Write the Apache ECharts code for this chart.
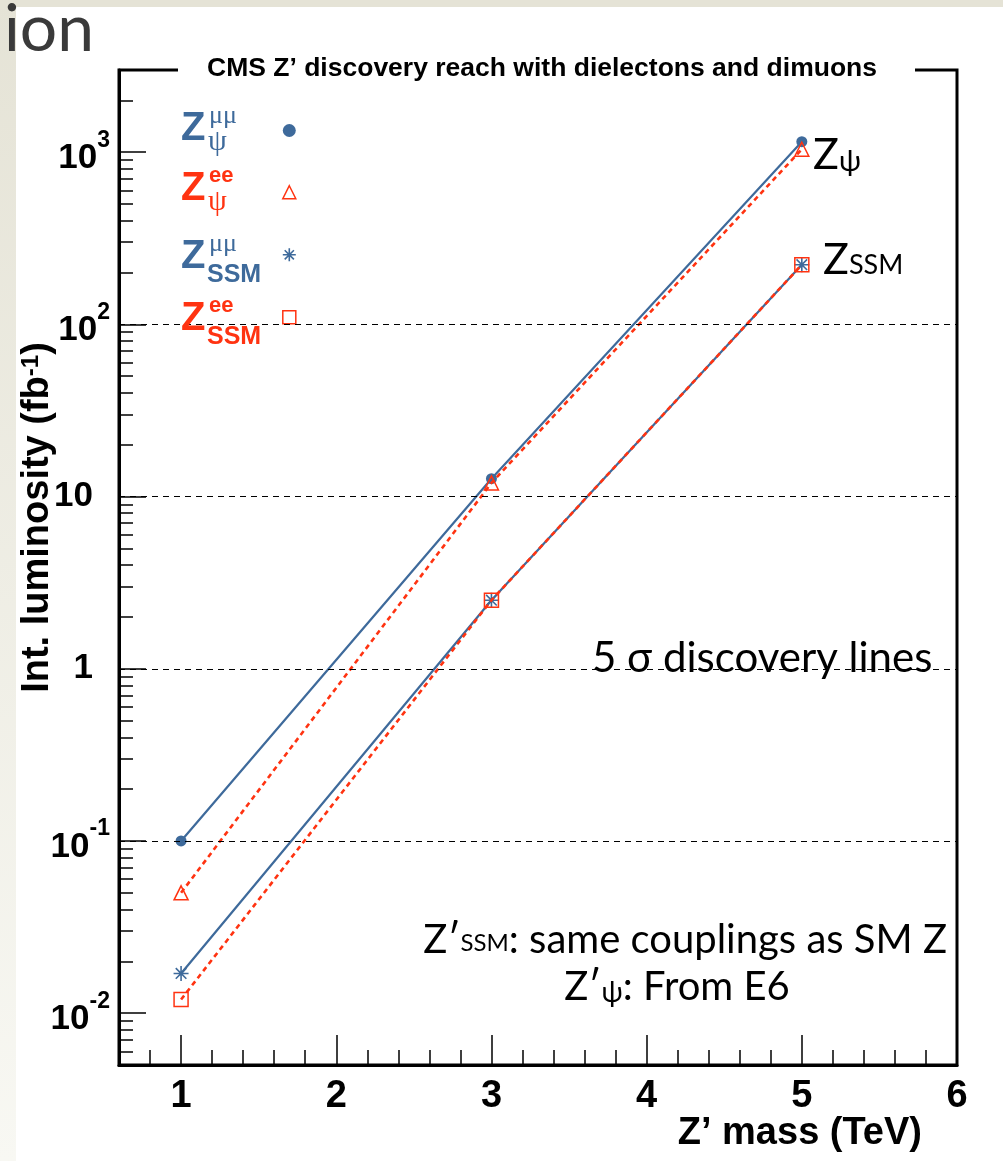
<!DOCTYPE html>
<html><head><meta charset="utf-8">
<script src="https://cdn.jsdelivr.net/npm/echarts@6/dist/echarts.min.js"></script>
<style>html,body{margin:0;padding:0;background:#fff}#c{width:1003px;height:1161px}</style>
</head><body><div id="c"></div>
<script>
// ---- data ----
const massTeV = [1, 3, 5];
const zpsiMuMu = [0.1, 12.7, 1150];
const zpsiEE = [0.05, 12, 1040];
const zssmMuMu = [0.017, 2.5, 222];
const zssmEE = [0.012, 2.5, 222];
const seriesNames = ['Zψ μμ', 'Zψ ee', 'ZSSM μμ', 'ZSSM ee'];
const xMajorTicks = [1, 2, 3, 4, 5, 6];
const xMinorTicks = [0.8, 1.2, 1.4, 1.6, 1.8, 2.2, 2.4, 2.6, 2.8, 3.2, 3.4, 3.6, 3.8, 4.2, 4.4, 4.6, 4.8, 5.2, 5.4, 5.6, 5.8];
const yMajorTicks = [0.01, 0.1, 1, 10, 100, 1000];
const yMinorTicks = [0.006, 0.007, 0.008, 0.009,
  0.02, 0.03, 0.04, 0.05, 0.06, 0.07, 0.08, 0.09,
  0.2, 0.3, 0.4, 0.5, 0.6, 0.7, 0.8, 0.9,
  2, 3, 4, 5, 6, 7, 8, 9,
  20, 30, 40, 50, 60, 70, 80, 90,
  200, 300, 400, 500, 600, 700, 800, 900, 2000];
const gridLineValues = [0.1, 1, 10, 100];

// ---- style ----
const BLUE = '#3e6a9b';
const RED = '#ff3311';
const SANS = '"Liberation Sans", Arial, sans-serif';
const HUM = 'Lato, "DejaVu Sans", sans-serif';
const SERIF = '"Liberation Serif", "DejaVu Serif", serif';
const asterisk = 'path://M0,-10L0,10M-10,0L10,0M-7.07,-7.07L7.07,7.07M-7.07,7.07L7.07,-7.07';

function pts(vals) { return massTeV.map((m, i) => [m, vals[i]]); }

function lineSeries(name, vals, color, dashed, symbol, size, hollow) {
  return {
    type: 'line', name: name, data: pts(vals),
    xAxisIndex: 0, yAxisIndex: 0,
    symbol: symbol, symbolSize: size,
    lineStyle: { color: color, width: dashed ? 2.6 : 2.2, type: dashed ? [5, 4] : 'solid' },
    itemStyle: { color: hollow ? 'rgba(255,255,255,0)' : color, borderColor: color, borderWidth: hollow ? 1.5 : (symbol === asterisk ? 1.6 : 0) },
    emphasis: { disabled: true },
    z: dashed ? 4 : 3
  };
}

const series = [
  lineSeries(seriesNames[0], zpsiMuMu, BLUE, false, 'circle', 11, false),
  lineSeries(seriesNames[1], zpsiEE, RED, true, 'triangle', 14, true),
  lineSeries(seriesNames[2], zssmMuMu, BLUE, false, asterisk, 15, false),
  lineSeries(seriesNames[3], zssmEE, RED, true, 'rect', 14, true)
];
series[0].markLine = {
  silent: true, symbol: ['none', 'none'], label: { show: false },
  lineStyle: { color: '#000', type: [6, 5], width: 1 },
  emphasis: { disabled: true },
  data: gridLineValues.map(v => ({ yAxis: v }))
};

const yLabelRich = {
  b: { fontFamily: SANS, fontWeight: 'bold', fontSize: 35, color: '#000', padding: [12, 0, 0, 0] },
  n: { fontFamily: SANS, fontWeight: 'bold', fontSize: 35, color: '#000', padding: [0, 17, 0, 0] },
  s: { fontFamily: SANS, fontWeight: 'bold', fontSize: 23, color: '#000', verticalAlign: 'top' }
};

const legendLabels = [
  { main: 'Z', sup: 'μμ', sub: 'ψ', color: BLUE, supSerif: true, subSerif: true, y: 129 },
  { main: 'Z', sup: 'ee', sub: 'ψ', color: RED, supSerif: false, subSerif: true, y: 189 },
  { main: 'Z', sup: 'μμ', sub: 'SSM', color: BLUE, supSerif: true, subSerif: false, y: 257 },
  { main: 'Z', sup: 'ee', sub: 'SSM', color: RED, supSerif: false, subSerif: false, y: 319 }
];

const graphic = [
  { type: 'rect', shape: { x: 0, y: 0, width: 16, height: 1161 }, z: -10,
    style: { fill: new echarts.graphic.LinearGradient(0, 0, 0, 1, [{ offset: 0, color: '#e5e3d6' }, { offset: 1, color: '#f8f8f3' }]) } },
  { type: 'rect', shape: { x: 0, y: 0, width: 1003, height: 7 }, z: -10, style: { fill: '#e5e3d6' } },
  { type: 'text', x: 4, y: 30, z: 5, style: { text: 'ion', font: '66px ' + HUM, fill: '#3a3a3a', textVerticalAlign: 'middle' } }
];
legendLabels.forEach(l => {
  graphic.push({ type: 'text', x: 181, y: l.y, z: 10, style: { text: l.main, font: 'bold 40px ' + SANS, fill: l.color, textVerticalAlign: 'middle' } });
  graphic.push({ type: 'text', x: 209, y: l.y - 13, z: 10, style: { text: l.sup, font: (l.supSerif ? '26px ' + SERIF : 'bold 22px ' + SANS), fill: l.color, textVerticalAlign: 'middle' } });
  graphic.push({ type: 'text', x: l.subSerif ? 208 : 207, y: l.y + (l.subSerif ? 13 : 18), z: 10, style: { text: l.sub, font: (l.subSerif ? '30px ' + SERIF : 'bold 25px ' + SANS), fill: l.color, textVerticalAlign: 'middle' } });
});
// annotations
graphic.push({ type: 'text', x: 813, y: 155, z: 10, style: { rich: { z: { font: '43px ' + HUM, fill: '#000' }, p: { font: '29px ' + HUM, fill: '#000', verticalAlign: 'bottom' } }, text: '{z|Z}{p|ψ}', textVerticalAlign: 'middle' } });
graphic.push({ type: 'text', x: 823, y: 260, z: 10, style: { rich: { z: { font: '43px ' + HUM, fill: '#000' }, p: { font: '27px ' + HUM, fill: '#000', verticalAlign: 'bottom', padding: [0, 0, 3, 0] } }, text: '{z|Z}{p|SSM}', textVerticalAlign: 'middle' } });
graphic.push({ type: 'text', x: 592, y: 658, z: 10, style: { text: '5 σ discovery lines', font: '42px ' + HUM, fill: '#000', textVerticalAlign: 'middle' } });
graphic.push({ type: 'text', x: 947, y: 940, z: 10, style: { rich: { a: { font: '40px ' + HUM, fill: '#000' }, s: { font: '24px ' + HUM, fill: '#000', verticalAlign: 'bottom', padding: [0, 0, 5, 0] } }, text: '{a|Z′}{s|SSM}{a|: same couplings as SM Z}', textAlign: 'right', textVerticalAlign: 'middle' } });
graphic.push({ type: 'text', x: 677, y: 987, z: 10, style: { rich: { a: { font: '40px ' + HUM, fill: '#000' }, s: { font: '28px ' + HUM, fill: '#000', verticalAlign: 'bottom' } }, text: '{a|Z′}{s|ψ}{a|: From E6}', textAlign: 'center', textVerticalAlign: 'middle' } });

const option = {
  animation: false,
  backgroundColor: '#fff',
  title: {
    text: 'CMS Z’ discovery reach with dielectons and dimuons',
    left: 178, top: 52, backgroundColor: '#fff', padding: [3, 38, 3, 29],
    textStyle: { fontFamily: SANS, fontWeight: 'bold', fontSize: 26.5, color: '#000' }
  },
  legend: {
    orient: 'vertical', left: 282, top: 124, padding: 0, itemWidth: 13, itemHeight: 13, itemGap: 48,
    selectedMode: false, formatter: () => '', textStyle: { fontSize: 1 },
    data: [
      { name: seriesNames[0], icon: 'circle', itemStyle: { color: BLUE, borderWidth: 0 } },
      { name: seriesNames[1], icon: 'triangle', itemStyle: { color: 'rgba(255,255,255,0)', borderColor: RED, borderWidth: 1.5 } },
      { name: seriesNames[2], icon: asterisk, itemStyle: { color: BLUE, borderColor: BLUE, borderWidth: 1.6 } },
      { name: seriesNames[3], icon: 'rect', itemStyle: { color: 'rgba(255,255,255,0)', borderColor: RED, borderWidth: 1.5 } }
    ]
  },
  grid: { left: 119, right: 46, top: 70, bottom: 96, show: true, borderColor: '#000', borderWidth: 3, backgroundColor: 'rgba(0,0,0,0)', containLabel: false, outerBoundsMode: 'none' },
  xAxis: [
    {
      type: 'value', min: 0.6, max: 6, position: 'bottom',
      axisLine: { show: true, onZero: false, lineStyle: { color: '#000', width: 3 } },
      axisTick: { show: true, inside: true, length: 30, customValues: xMajorTicks, lineStyle: { color: '#000', width: 1.5 } },
      axisLabel: { customValues: xMajorTicks, margin: 13, fontFamily: SANS, fontWeight: 'bold', fontSize: 38, color: '#000' },
      splitLine: { show: false },
      name: 'Z’ mass (TeV)', nameLocation: 'end', nameGap: -35, nameMoveOverlap: false,
      nameTextStyle: { fontFamily: SANS, fontWeight: 'bold', fontSize: 38, color: '#000', align: 'right', verticalAlign: 'top', padding: [50, 0, 0, 0] }
    },
    {
      type: 'value', min: 0.6, max: 6, position: 'bottom',
      axisLine: { show: false, onZero: false },
      axisTick: { show: true, inside: true, length: 15, customValues: xMinorTicks, lineStyle: { color: '#000', width: 1.5 } },
      axisLabel: { show: false }, splitLine: { show: false }
    }
  ],
  yAxis: [
    {
      type: 'log', logBase: 10, min: 0.005, max: 3000, position: 'left',
      axisLine: { show: true, onZero: false, lineStyle: { color: '#000', width: 3 } },
      axisTick: { show: true, inside: true, length: 27, customValues: yMajorTicks, lineStyle: { color: '#000', width: 1.5 } },
      axisLabel: {
        customValues: yMajorTicks, margin: 9, rich: yLabelRich,
        formatter: v => {
          const e = Math.round(Math.log10(v));
          if (e === 0) return '{n|1}';
          if (e === 1) return '{n|10}';
          return '{b|10}{s|' + e + '}';
        }
      },
      splitLine: { show: false }, minorTick: { show: false },
      name: 'Int. luminosity (fb{s|-1})', nameLocation: 'middle', nameGap: 62, nameMoveOverlap: false,
      nameTextStyle: { fontFamily: SANS, fontWeight: 'bold', fontSize: 38, color: '#000', padding: [0, 0, 0, 100],
        rich: { s: { fontFamily: SANS, fontWeight: 'bold', fontSize: 24, color: '#000', verticalAlign: 'top' } } }
    },
    {
      type: 'log', logBase: 10, min: 0.005, max: 3000, position: 'left',
      axisLine: { show: false, onZero: false },
      axisTick: { show: true, inside: true, length: 14, customValues: yMinorTicks, lineStyle: { color: '#000', width: 1.5 } },
      axisLabel: { show: false }, splitLine: { show: false }
    }
  ],
  series: series,
  graphic: graphic
};

const chart = echarts.init(document.getElementById('c'), null, { renderer: 'canvas' });
chart.setOption(option);
</script>
</body></html>
